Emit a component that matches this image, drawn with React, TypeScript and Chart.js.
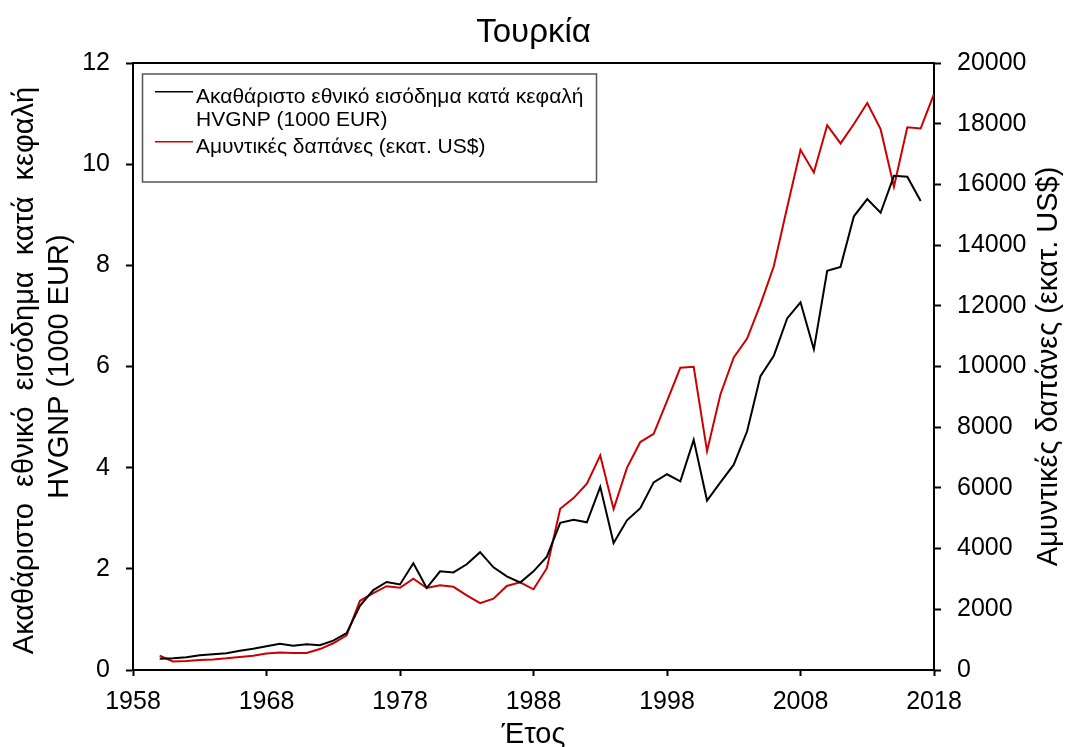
import React, { useEffect, useRef } from "react";
import { Chart, registerables } from "chart.js";

Chart.register(...registerables);

const FONT = "'Liberation Sans', Arial, sans-serif";

const chartTitle = "Τουρκία";
const xTitle = "Έτος";
const yLeftTitle = ["Ακαθάριστο  εθνικό  εισόδημα  κατά  κεφαλή", "HVGNP (1000 EUR)"];
const yRightTitle = "Αμυντικές δαπάνες (εκατ. US$)";
const legendGnp = ["Ακαθάριστο εθνικό εισόδημα κατά κεφαλή", "HVGNP (1000 EUR)"];
const legendDefense = ["Αμυντικές δαπάνες (εκατ. US$)"];

const years = [
  1960, 1961, 1962, 1963, 1964, 1965, 1966, 1967, 1968, 1969,
  1970, 1971, 1972, 1973, 1974, 1975, 1976, 1977, 1978, 1979,
  1980, 1981, 1982, 1983, 1984, 1985, 1986, 1987, 1988, 1989,
  1990, 1991, 1992, 1993, 1994, 1995, 1996, 1997, 1998, 1999,
  2000, 2001, 2002, 2003, 2004, 2005, 2006, 2007, 2008, 2009,
  2010, 2011, 2012, 2013, 2014, 2015, 2016, 2017, 2018,
];

// GNP per capita (1000 EUR), left axis
const gnp: (number | null)[] = [
  0.22, 0.23, 0.25, 0.29, 0.31, 0.33, 0.38, 0.42, 0.47, 0.52,
  0.48, 0.51, 0.49, 0.58, 0.73, 1.27, 1.58, 1.74, 1.69, 2.11,
  1.62, 1.95, 1.93, 2.09, 2.33, 2.03, 1.85, 1.73, 1.95, 2.24,
  2.91, 2.97, 2.92, 3.62, 2.51, 2.96, 3.2, 3.71, 3.87, 3.73,
  4.55, 3.35, 3.71, 4.06, 4.72, 5.81, 6.21, 6.95, 7.27, 6.34,
  7.89, 7.97, 8.97, 9.31, 9.04, 9.77, 9.75, 9.27, null,
];

// Defence expenditure (million US$), right axis
const defense: number[] = [
  470, 280, 300, 330, 350, 385, 430, 470, 540, 580,
  560, 560, 690, 880, 1140, 2280, 2530, 2760, 2710, 3010,
  2700, 2790, 2740, 2460, 2200, 2350, 2770, 2890, 2660, 3355,
  5310, 5665, 6140, 7070, 5300, 6660, 7510, 7780, 8860, 9960,
  9990, 7210, 9080, 10300, 10920, 12050, 13300, 15240, 17140, 16390,
  17950, 17350, 17990, 18680, 17820, 15920, 17880, 17840, 18980,
];

const xTicks = [1958, 1968, 1978, 1988, 1998, 2008, 2018];
const leftTicks = [0, 2, 4, 6, 8, 10, 12];
const rightTicks = [0, 2000, 4000, 6000, 8000, 10000, 12000, 14000, 16000, 18000, 20000];

const GNP_COLOR = "#000000";
const DEF_COLOR = "#cc0000";

const decor = {
  id: "decor",
  afterDraw(chart: any) {
    const { ctx, chartArea: a } = chart;
    ctx.save();
    // top frame line
    ctx.strokeStyle = "#000";
    ctx.lineWidth = 2;
    ctx.beginPath();
    ctx.moveTo(a.left - 1, a.top);
    ctx.lineTo(a.right + 1, a.top);
    ctx.stroke();

    ctx.fillStyle = "#000";
    ctx.textAlign = "center";
    ctx.textBaseline = "alphabetic";
    const cx = (a.left + a.right) / 2;
    const cy = (a.top + a.bottom) / 2;

    ctx.font = `33px ${FONT}`;
    ctx.fillText(chartTitle, cx, 42);

    ctx.font = `29px ${FONT}`;
    ctx.fillText(xTitle, cx, 743);

    const rot = (t: string, bx: number, by: number) => {
      ctx.save();
      ctx.translate(bx, by);
      ctx.rotate(-Math.PI / 2);
      ctx.fillText(t, 0, 0);
      ctx.restore();
    };
    rot(yLeftTitle[0], 33, cy + 4);
    rot(yLeftTitle[1], 68, cy);
    rot(yRightTitle, 1057, cy);

    // legend
    ctx.lineWidth = 1.5;
    ctx.strokeStyle = "#555";
    ctx.strokeRect(142.5, 74, 454, 108);
    ctx.font = `21px ${FONT}`;
    ctx.textAlign = "left";
    const tx = 196;
    const drawEntry = (lines: string[], color: string, base: number) => {
      ctx.strokeStyle = color;
      ctx.lineWidth = 1.5;
      ctx.beginPath();
      ctx.moveTo(155, base - 11);
      ctx.lineTo(193, base - 11);
      ctx.stroke();
      lines.forEach((l, i) => ctx.fillText(l, tx, base + i * 23.3));
    };
    drawEntry(legendGnp, GNP_COLOR, 102.7);
    drawEntry(legendDefense, DEF_COLOR, 152.7);
    ctx.restore();
  },
};

const tickFont = { family: FONT, size: 25 };
const gridCommon = {
  drawOnChartArea: false,
  drawTicks: true,
  tickLength: 7,
  tickWidth: 2,
  tickColor: "#000",
  color: "#000",
};

export default function App() {
  const ref = useRef<HTMLCanvasElement | null>(null);

  useEffect(() => {
    if (!ref.current) return;
    const chart = new Chart(ref.current, {
      type: "line",
      data: {
        datasets: [
          {
            label: legendGnp.join(" "),
            data: years.map((yr, i) => ({ x: yr, y: gnp[i] })),
            borderColor: GNP_COLOR,
            borderWidth: 2,
            pointRadius: 0,
            tension: 0,
            fill: false,
            spanGaps: false,
            yAxisID: "y",
          },
          {
            label: legendDefense.join(" "),
            data: years.map((yr, i) => ({ x: yr, y: defense[i] })),
            borderColor: DEF_COLOR,
            borderWidth: 2,
            pointRadius: 0,
            tension: 0,
            fill: false,
            yAxisID: "y1",
          },
        ],
      },
      options: {
        animation: false,
        responsive: false,
        devicePixelRatio: 1,
        layout: { padding: { top: 63, left: 0, right: 0, bottom: 0 } },
        plugins: {
          legend: { display: false },
          title: { display: false },
          tooltip: { enabled: false },
        },
        scales: {
          x: {
            type: "linear",
            min: xTicks[0],
            max: xTicks[xTicks.length - 1],
            afterBuildTicks: (s: any) => {
              s.ticks = xTicks.map((v) => ({ value: v }));
            },
            afterFit: (s: any) => {
              s.height = 77;
            },
            ticks: {
              font: tickFont,
              color: "#000",
              padding: 11,
              maxRotation: 0,
              autoSkip: false,
              callback: (v: any) => String(v),
            },
            grid: { ...gridCommon, tickLength: 6 },
            border: { color: "#000", width: 2 },
          },
          y: {
            type: "linear",
            position: "left",
            min: leftTicks[0],
            max: leftTicks[leftTicks.length - 1],
            afterBuildTicks: (s: any) => {
              s.ticks = leftTicks.map((v) => ({ value: v }));
            },
            afterFit: (s: any) => {
              s.width = 133;
            },
            ticks: {
              font: tickFont,
              color: "#000",
              padding: 16,
              callback: (v: any) => String(v),
            },
            grid: gridCommon,
            border: { color: "#000", width: 2 },
          },
          y1: {
            type: "linear",
            position: "right",
            min: rightTicks[0],
            max: rightTicks[rightTicks.length - 1],
            afterBuildTicks: (s: any) => {
              s.ticks = rightTicks.map((v) => ({ value: v }));
            },
            afterFit: (s: any) => {
              s.width = 135;
            },
            ticks: {
              font: tickFont,
              color: "#000",
              padding: 16,
              callback: (v: any) => String(v),
            },
            grid: gridCommon,
            border: { color: "#000", width: 2 },
          },
        },
      } as any,
      plugins: [decor],
    });
    return () => chart.destroy();
  }, []);

  return (
    <div style={{ position: "absolute", left: 0, top: 0, width: 1069, height: 747, background: "#fff" }}>
      <canvas ref={ref} width={1069} height={747} style={{ display: "block" }} />
    </div>
  );
}
